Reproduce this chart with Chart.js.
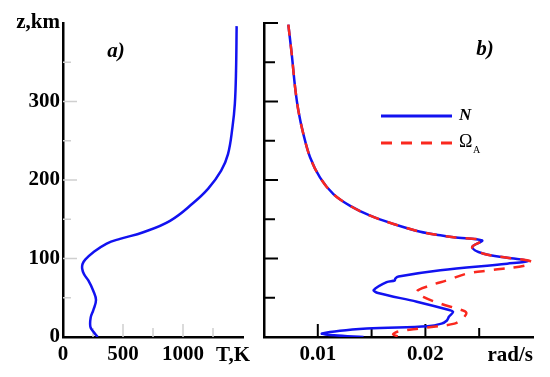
<!DOCTYPE html>
<html>
<head>
<meta charset="utf-8">
<script src="https://cdn.jsdelivr.net/npm/chart.js@4"></script>
<style>
  body { margin: 0; background: #fff; }
  canvas { position: absolute; top: 0; }
  #left { left: 0; }
  #right { left: 260px; }
</style>
</head>
<body>
<canvas id="left" width="260" height="377"></canvas>
<canvas id="right" width="290" height="377"></canvas>
<script>
// panel a) temperature profile
const tempK = [289, 252, 228, 231, 252, 275, 252, 211, 175, 160, 163, 185, 253, 364, 475, 669, 892, 1080, 1210, 1318, 1375, 1412, 1432, 1442, 1447]
const tempZ = [0, 7, 13, 25, 34, 47, 59, 72, 80, 87, 93, 98.5, 108, 119, 125, 133.5, 148, 170, 189, 212, 233, 267, 297, 339, 396]

// panel b) frequencies (rad/s) vs height
const nFreq = [0.00726, 0.00758, 0.00789, 0.0082, 0.00866, 0.00928, 0.01021, 0.01145, 0.01301, 0.01487, 0.01704, 0.01953, 0.02139, 0.02263, 0.02527, 0.02434, 0.02542, 0.0276, 0.0296, 0.0276, 0.02139, 0.0175, 0.0172, 0.01715, 0.0164, 0.0152, 0.0156, 0.0192, 0.0223, 0.02257, 0.0222, 0.022, 0.0215, 0.0202, 0.01456, 0.0104, 0.0115, 0.01425]
const nZ = [398, 360, 318, 288, 258.5, 229, 203, 182, 167, 154.5, 144, 134, 129.5, 127, 123, 114.5, 106, 101, 97, 93.4, 85, 77, 74.5, 72, 70, 60, 56, 45, 34, 32, 26, 21, 17, 13.6, 10.7, 4.5, 2.2, 0]
const omegaFreq = [0.00726, 0.00758, 0.00789, 0.0082, 0.00866, 0.00928, 0.01021, 0.01145, 0.01301, 0.01487, 0.01704, 0.01953, 0.02139, 0.02263, 0.02527, 0.02434, 0.02542, 0.0276, 0.02985, 0.0293, 0.026, 0.02387, 0.0222, 0.0203, 0.0192, 0.0198, 0.0215, 0.0232, 0.0238, 0.0235, 0.0227, 0.0195, 0.0175, 0.017, 0.01766]
const omegaZ = [398, 360, 318, 288, 258.5, 229, 203, 182, 167, 154.5, 144, 134, 129.5, 127, 123, 114.5, 106, 101, 96, 91, 85, 80.8, 73, 65, 58, 51, 42, 35, 31, 24, 17, 11, 7, 3.5, 0]

// axis ticks
const zLabels = [0, 100, 200, 300, 400]
const zMarks = [50, 100, 150, 200, 250, 300, 350, 400]
const tLabels = [0, 500, 1000]
const tMarks = [250, 500, 750, 1000, 1250]
const fLabels = [0.01, 0.02]
const fMarks = [0.01, 0.015, 0.02, 0.025]

const blue = "rgb(18, 18, 240)"
const red = "rgb(250, 40, 30)"

Chart.defaults.font.family = "'Liberation Serif', 'Times New Roman', serif"
Chart.defaults.font.size = 21
Chart.defaults.font.weight = "bold"
Chart.defaults.color = "#000"

const pairs = (xs, ys) => xs.map((v, i) => ({ x: v, y: ys[i] }))

// inside tick marks + free text
const decor = {
  id: "decor",
  beforeDatasetsDraw(chart, args, opts) {
    const { ctx } = chart
    const x = chart.scales.x
    const y = chart.scales.y
    ctx.save()
    ctx.strokeStyle = opts.tickColor
    ctx.lineWidth = opts.tickWidth
    opts.xMarks.forEach((v) => {
      const px = x.getPixelForValue(v)
      const len = opts.xMajor(v) ? 13 : 9
      ctx.beginPath()
      ctx.moveTo(px, y.bottom)
      ctx.lineTo(px, y.bottom - len)
      ctx.stroke()
    })
    opts.yMarks.forEach((v) => {
      const py = y.getPixelForValue(v)
      const len = opts.yMajor(v) ? 14 : opts.yMinorLen
      ctx.beginPath()
      ctx.moveTo(x.left, py)
      ctx.lineTo(x.left + len, py)
      ctx.stroke()
    })
    ctx.restore()
  },
  afterDraw(chart, args, opts) {
    const { ctx } = chart
    ctx.save()
    ctx.fillStyle = "#000"
    ctx.textBaseline = "middle"
    opts.texts.forEach((t) => {
      ctx.font = t.font
      ctx.textAlign = t.align
      ctx.fillText(t.text, t.x, t.y)
    })
    if (opts.legend) {
      chart.data.datasets.forEach((ds, i) => {
        const ly = [116, 143][i]
        ctx.strokeStyle = ds.borderColor
        ctx.lineWidth = 3
        ctx.setLineDash(ds.borderDash || [])
        ctx.beginPath()
        ctx.moveTo(121, ly)
        ctx.lineTo(192, ly)
        ctx.stroke()
      })
      ctx.setLineDash([])
      ctx.textAlign = "left"
      ctx.font = "italic bold 17px 'Liberation Serif'"
      ctx.fillText("N", 199, 116)
      ctx.font = "18px 'Liberation Serif'"
      ctx.fillText("Ω", 199, 142)
      ctx.font = "10px 'Liberation Serif'"
      ctx.fillText("A", 213, 150)
    }
    ctx.restore()
  },
}

new Chart(document.getElementById("left"), {
  type: "line",
  data: {
    datasets: [
      {
        data: pairs(tempK, tempZ),
        borderColor: blue,
        borderWidth: 2.5,
        pointRadius: 0,
        tension: 0.4,
      },
    ],
  },
  options: {
    responsive: false,
    animation: false,
    devicePixelRatio: 1,
    layout: { padding: { top: 23, right: 17, left: 0, bottom: 0 } },
    scales: {
      x: {
        type: "linear",
        min: 0,
        max: 1500,
        afterFit: (s) => { s.height = 40 },
        afterBuildTicks: (s) => { s.ticks = tLabels.map((v) => ({ value: v })) },
        ticks: { padding: 5, maxRotation: 0, autoSkip: false, callback: (v) => String(v) },
        grid: { display: false, drawTicks: false },
        border: { color: "#000", width: 2.5 },
      },
      y: {
        type: "linear",
        min: 0,
        max: 400,
        afterFit: (s) => { s.width = 63 },
        afterBuildTicks: (s) => { s.ticks = zLabels.map((v) => ({ value: v })) },
        ticks: {
          padding: 3,
          autoSkip: false,
          callback: (v) => (v === 400 ? "z,km" : String(v)),
        },
        grid: { display: false, drawTicks: false },
        border: { color: "#000", width: 2.5 },
      },
    },
    plugins: {
      legend: { display: false },
      tooltip: { enabled: false },
      decor: {
        tickColor: "#cfcfcf",
        tickWidth: 1.5,
        xMarks: tMarks,
        yMarks: zMarks.filter((v) => v < 400),
        xMajor: (v) => v % 500 === 0,
        yMajor: (v) => v % 100 === 0,
        yMinorLen: 8,
        legend: false,
        texts: [
          { text: "a)", x: 116, y: 52, align: "center", font: "italic bold 21px 'Liberation Serif'" },
          { text: "T,K", x: 250, y: 356, align: "right", font: "bold 21px 'Liberation Serif'" },
        ],
      },
    },
  },
  plugins: [decor],
})

new Chart(document.getElementById("right"), {
  type: "line",
  data: {
    datasets: [
      {
        label: "N",
        data: pairs(nFreq, nZ),
        borderColor: blue,
        borderWidth: 2.5,
        pointRadius: 0,
        tension: 0.35,
        order: 1,
      },
      {
        label: "ΩA",
        data: pairs(omegaFreq, omegaZ),
        borderColor: red,
        borderWidth: 2.5,
        borderDash: [11, 9],
        pointRadius: 0,
        tension: 0.35,
        order: 0,
      },
    ],
  },
  options: {
    responsive: false,
    animation: false,
    devicePixelRatio: 1,
    layout: { padding: { top: 23, right: 17, left: 0, bottom: 0 } },
    scales: {
      x: {
        type: "linear",
        min: 0.005,
        max: 0.03,
        afterFit: (s) => { s.height = 40 },
        afterBuildTicks: (s) => { s.ticks = fLabels.map((v) => ({ value: v })) },
        ticks: { padding: 5, maxRotation: 0, autoSkip: false, callback: (v) => v.toFixed(2) },
        grid: { display: false, drawTicks: false },
        border: { color: "#000", width: 2.5 },
      },
      y: {
        type: "linear",
        min: 0,
        max: 400,
        afterFit: (s) => { s.width = 4 },
        ticks: { display: false },
        grid: { display: false, drawTicks: false },
        border: { color: "#000", width: 2.5 },
      },
    },
    plugins: {
      legend: { display: false },
      tooltip: { enabled: false },
      decor: {
        tickColor: "#000",
        tickWidth: 2,
        xMarks: fMarks,
        yMarks: zMarks,
        xMajor: (v) => Math.abs(v * 100 - Math.round(v * 100)) < 1e-6,
        yMajor: (v) => v % 100 === 0,
        yMinorLen: 11,
        legend: true,
        texts: [
          { text: "b)", x: 225, y: 50, align: "center", font: "italic bold 21px 'Liberation Serif'" },
          { text: "rad/s", x: 273, y: 356, align: "right", font: "bold 21px 'Liberation Serif'" },
        ],
      },
    },
  },
  plugins: [decor],
})
</script>
</body>
</html>
